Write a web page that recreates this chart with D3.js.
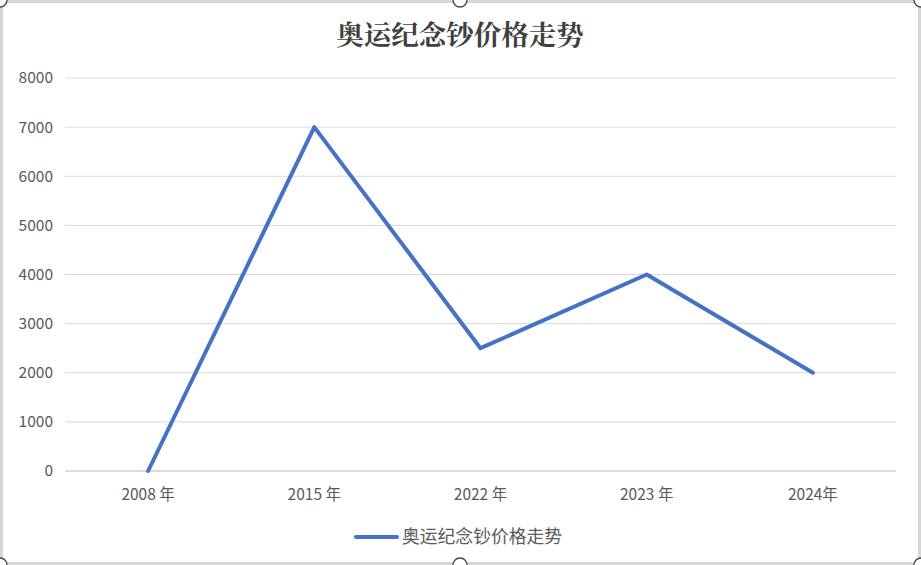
<!DOCTYPE html>
<html><head><meta charset="utf-8">
<script src="https://cdn.jsdelivr.net/npm/d3@7"></script>
<style>html,body{margin:0;padding:0;background:#fff;overflow:hidden}</style>
</head><body>
<svg id="c" width="921" height="565"></svg>
<script>
const title = "奥运纪念钞价格走势";
const seriesName = "奥运纪念钞价格走势";
const categories = ["2008 年", "2015 年", "2022 年", "2023 年", "2024年"];
const values = [0, 7000, 2500, 4000, 2000];
const yTicks = [0, 1000, 2000, 3000, 4000, 5000, 6000, 7000, 8000];

const W = 921, H = 565;
const svg = d3.select("#c");
const font = "'Noto Sans CJK SC', 'Noto Sans', sans-serif";

// frame
svg.append("rect").attr("x", 1.5).attr("y", 1.5).attr("width", W - 3).attr("height", H - 3)
  .attr("fill", "#fff").attr("stroke", "#d6d6da").attr("stroke-width", 3);

const x = d3.scaleBand().domain(categories).range([65, 896]);
const y = d3.scaleLinear().domain([0, 8000]).range([471, 78]);

// gridlines
svg.append("g").selectAll("line").data(yTicks.filter(d => d > 0)).join("line")
  .attr("x1", 65).attr("x2", 896)
  .attr("y1", d => y(d)).attr("y2", d => y(d))
  .attr("stroke", "#d9d9d9").attr("stroke-width", 1);
// baseline axis
svg.append("line").attr("x1", 65).attr("x2", 896).attr("y1", y(0)).attr("y2", y(0))
  .attr("stroke", "#d0d0d0").attr("stroke-width", 1.5);

// y labels
svg.append("g").selectAll("text").data(yTicks).join("text")
  .attr("x", 53).attr("y", d => y(d)).attr("dy", "0.35em")
  .attr("text-anchor", "end").attr("font-family", font).attr("font-size", 15.5)
  .attr("fill", "#595959").text(d => d);

// x labels
svg.append("g").selectAll("text").data(categories).join("text")
  .attr("x", d => x(d) + x.bandwidth() / 2).attr("y", 500)
  .attr("text-anchor", "middle").attr("font-family", font).attr("font-size", 15.5)
  .attr("fill", "#595959").text(d => d);

// line
const line = d3.line().x((d, i) => x(categories[i]) + x.bandwidth() / 2).y(d => y(d));
svg.append("path").datum(values).attr("d", line)
  .attr("fill", "none").attr("stroke", "#4472c4").attr("stroke-width", 4)
  .attr("stroke-linejoin", "round").attr("stroke-linecap", "round");

// title
svg.append("text").attr("x", 460).attr("y", 45).attr("text-anchor", "middle")
  .attr("font-family", "'Noto Serif CJK SC', 'Noto Sans CJK SC', serif").attr("font-size", 27.5)
  .attr("font-weight", "bold")
  .attr("fill", "#404040").text(title);

// legend
svg.append("line").attr("x1", 356).attr("x2", 397).attr("y1", 537).attr("y2", 537)
  .attr("stroke", "#4472c4").attr("stroke-width", 4).attr("stroke-linecap", "round");
svg.append("text").attr("x", 402).attr("y", 537).attr("dy", "0.35em")
  .attr("font-family", font).attr("font-size", 17.8).attr("fill", "#595959").text(seriesName);

// selection handles
const handles = [[0, 0], [460, 0], [W, 0], [0, H], [460, H], [W, H]];
svg.append("g").selectAll("circle").data(handles).join("circle")
  .attr("cx", d => d[0]).attr("cy", d => d[1]).attr("r", 7)
  .attr("fill", "#fff").attr("stroke", "#444").attr("stroke-width", 1.3);
</script>
</body></html>
